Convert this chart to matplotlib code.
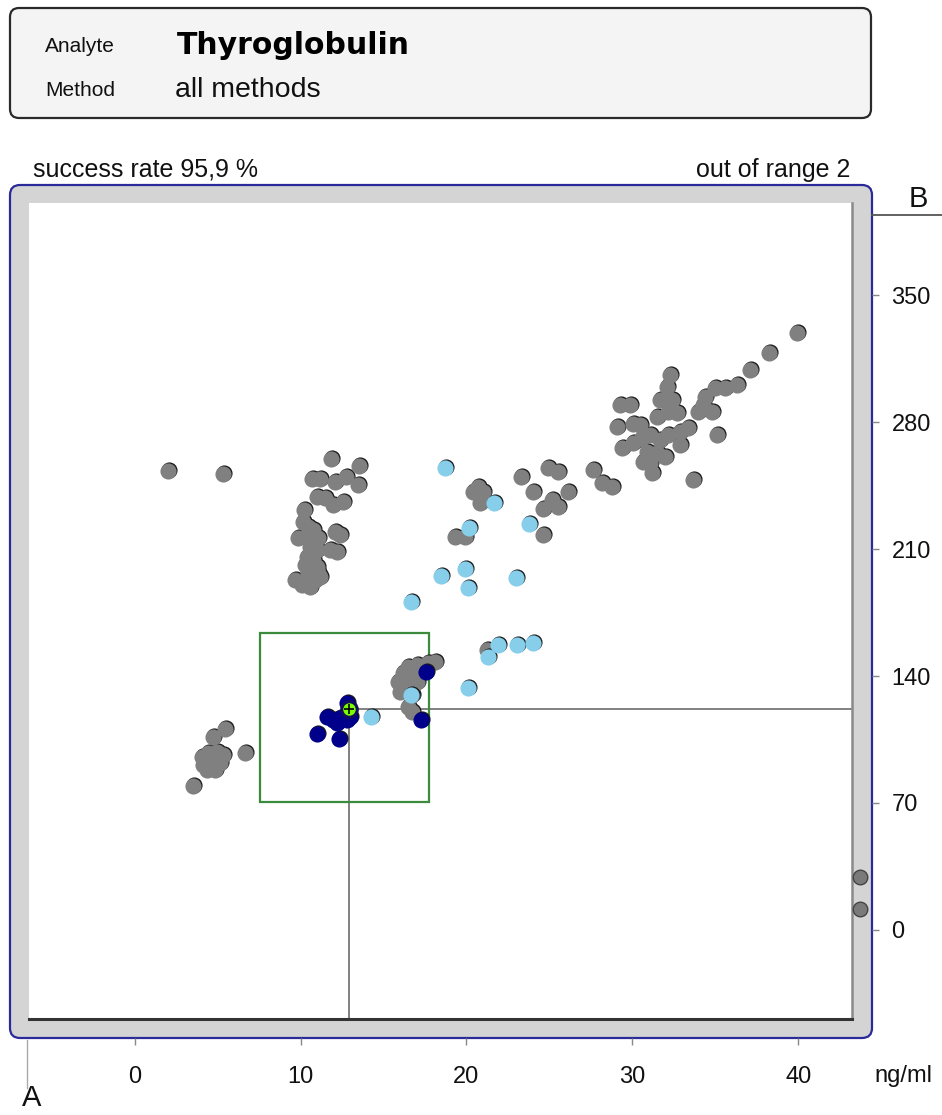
import matplotlib
matplotlib.use('Agg')
import matplotlib.pyplot as plt
from matplotlib.patches import FancyBboxPatch, Rectangle
from matplotlib.transforms import offset_copy

# ---------------- data ----------------
analyte = "Thyroglobulin"
method = "all methods"
success_text = "success rate 95,9 %"
out_of_range_text = "out of range 2"
unit_label = "ng/ml"
x_ticks = [0, 10, 20, 30, 40]
y_ticks = [0, 70, 140, 210, 280, 350]
x_limits = (-6.36, 43.23)
y_limits = (-49.1, 400.8)

target_x = 12.92
target_y = 121.8
box_x = (7.56, 17.74)
box_y = (70.6, 163.7)

gray_x = [2.0, 5.33,
          11.84, 13.52, 10.69, 11.17, 12.08, 12.74, 13.46,
          10.99, 11.48, 11.96, 12.56, 10.21, 10.15, 10.45, 10.75,
          9.85, 10.39, 11.05, 12.08, 12.38, 10.57, 10.99, 11.78, 12.20,
          10.39, 10.75, 10.27, 10.99, 10.45, 11.05, 9.67, 10.09, 10.57, 10.87, 11.17,
          5.45, 4.73, 4.07, 4.43, 4.97, 5.33, 4.13, 4.67, 5.15, 4.37, 4.85, 6.66, 3.5,
          18.10, 17.68, 17.02, 16.48, 16.17, 16.78, 15.87, 16.42, 17.02, 15.99, 16.72, 16.48, 16.72,
          20.39, 20.69, 20.99, 20.81, 19.31, 19.91, 23.28, 24.91, 25.51, 24.00, 26.11, 25.15, 24.61, 25.51, 24.61, 21.23,
          27.61, 28.16, 28.76,
          39.91, 38.22, 37.08, 36.30, 35.57, 34.97, 34.37, 34.25, 33.95, 34.79, 35.09, 33.65,
          32.26, 32.08, 31.66, 32.38, 31.48, 32.14, 32.68, 33.34, 32.86,
          29.25, 29.85, 29.06, 30.03, 30.45,
          29.37, 30.03, 30.57, 31.05, 31.66, 32.14, 30.87, 31.48, 31.96, 32.86, 30.63, 31.17, 31.05]
gray_y = [253.0, 251.4,
          259.7, 255.8, 248.6, 248.6, 247.0, 249.7, 245.3,
          238.7, 238.2, 234.3, 236.0, 231.5, 224.9, 222.2, 220.5,
          216.1, 216.1, 216.1, 219.4, 217.8, 211.1, 209.5, 209.5, 208.4,
          205.6, 204.0, 201.2, 200.1, 197.4, 196.8, 193.0, 190.2, 189.1, 193.0, 194.6,
          110.8, 106.4, 95.4, 97.6, 98.1, 96.5, 91.0, 91.0, 92.1, 88.2, 88.2, 97.6, 79.4,
          147.7, 147.2, 146.1, 145.0, 141.7, 141.7, 136.7, 137.8, 136.7, 131.2, 129.6, 122.9, 120.2,
          241.5, 244.2, 241.5, 235.4, 216.7, 216.7, 249.7, 254.7, 252.5, 241.5, 241.5, 237.1, 232.1, 233.2, 217.8, 154.4,
          253.6, 246.4, 244.2,
          329.1, 318.1, 308.7, 300.5, 298.8, 298.8, 293.8, 289.4, 285.6, 285.6, 272.9, 248.1,
          306.0, 299.4, 292.2, 292.2, 282.8, 285.6, 285.0, 276.8, 274.5,
          289.4, 289.4, 277.3, 279.0, 278.4,
          265.7, 268.5, 271.2, 272.9, 270.1, 272.9, 263.5, 263.0, 260.8, 267.4, 258.0, 251.9, 257.4]

light_x = [18.70, 21.66, 20.15, 23.76, 18.46, 19.91, 20.09, 22.98, 16.66, 21.90, 23.04, 24.00, 21.30, 20.09, 16.66, 14.25]
light_y = [254.7, 235.4, 221.6, 223.8, 195.2, 199.0, 188.5, 194.1, 180.8, 157.1, 157.1, 158.2, 150.5, 133.4, 129.6, 117.4]

navy_x = [12.80, 11.60, 11.96, 12.38, 12.20, 12.80, 12.98, 10.99, 12.32, 17.56, 17.26]
navy_y = [125.1, 117.4, 115.8, 116.9, 114.1, 115.8, 117.4, 108.1, 105.3, 142.2, 115.8]

out_of_range_y = [29.2, 11.6]

# ---------------- figure ----------------
W, H = 942, 1115
fig = plt.figure(figsize=(W / 100, H / 100), dpi=100)
plt.rcParams['font.family'] = ['Liberation Sans', 'DejaVu Sans']

bg = fig.add_axes([0, 0, 1, 1], zorder=0)
bg.set_xlim(0, W)
bg.set_ylim(H, 0)
bg.axis('off')

# header box
bg.add_patch(FancyBboxPatch((10, 8), 861, 110, boxstyle="round,pad=0,rounding_size=9",
                            fc='#f4f4f4', ec='#2a2a2a', lw=1.6))
bg.text(45, 47, "Analyte", fontsize=15, va='center', color='#111')
bg.text(45, 91, "Method", fontsize=15, va='center', color='#111')
bg.text(177, 46, analyte, fontsize=21.5, fontweight='bold', va='center',
        family='DejaVu Sans', color='#000')
bg.text(175, 90, method, fontsize=20.5, va='center', color='#111')

bg.text(33, 170, success_text, fontsize=18, va='center', color='#111')
bg.text(850, 170, out_of_range_text, fontsize=18, va='center', ha='right', color='#111')

# chart frame
bg.add_patch(FancyBboxPatch((10, 185), 862, 853, boxstyle="round,pad=0,rounding_size=10",
                            fc='#d4d4d4', ec='#2a2a9a', lw=1.6))

# B and A markers
bg.plot([872, 942], [215, 215], color='#555555', lw=1.3)
bg.text(918, 213, "B", fontsize=21, ha='center', va='bottom', color='#111')
bg.plot([27, 27], [1040, 1088], color='#aaaaaa', lw=1.0)
bg.text(32, 1098, "A", fontsize=21, ha='center', va='center', color='#111')
bg.text(874, 1076, unit_label, fontsize=17, va='center', ha='left', color='#111')

# main plotting area
left, right, top, bottom = 29, 852, 203, 1019
ax = fig.add_axes([left / W, (H - bottom) / H, (right - left) / W, (bottom - top) / H], zorder=2)
ax.set_xlim(*x_limits)
ax.set_ylim(*y_limits)
ax.set_facecolor('white')
ax.set_xticks([])
ax.set_yticks([])
for s in ['top', 'left']:
    ax.spines[s].set_visible(False)
ax.spines['bottom'].set_color('#333333')
ax.spines['bottom'].set_linewidth(2.2)
ax.spines['right'].set_color('#8a8a8a')
ax.spines['right'].set_linewidth(1.8)

# crosshair and acceptance box
ax.plot([target_x, target_x], [y_limits[0], target_y], color='#808080', lw=1.4, zorder=1)
ax.plot([target_x, x_limits[1]], [target_y, target_y], color='#808080', lw=1.4, zorder=1)
ax.add_patch(Rectangle((box_x[0], box_y[0]), box_x[1] - box_x[0], box_y[1] - box_y[0],
                       fill=False, ec='#3c8a3c', lw=1.6, zorder=1.5))

shadow = offset_copy(ax.transData, fig=fig, x=0.9, y=1.3, units='dots')
S = 135


def series(xs, ys, color, z):
    ax.scatter(xs, ys, s=S, c='#1a1a1a', lw=0, transform=shadow, zorder=z)
    ax.scatter(xs, ys, s=S, c=color, lw=0, zorder=z + 0.1)


series(gray_x, gray_y, '#808080', 3)
series(light_x, light_y, '#87ceeb', 4)
series(navy_x, navy_y, '#00008b', 5)

ax.scatter([target_x], [target_y], s=125, c='#7cfc00', edgecolors='#10105a', lw=2.2, zorder=7)
ax.scatter([target_x], [target_y], s=60, c='#000000', marker='+', lw=1.2, zorder=8)

# out of range points in the right margin
oor_tr = ax.get_yaxis_transform()
ax.scatter([1.0097] * len(out_of_range_y), out_of_range_y, s=110, c='#7a7a7a',
           edgecolors='#444444', lw=1.0, transform=oor_tr, clip_on=False, zorder=6)

# tick axes outside the frame
axx = fig.add_axes([left / W, (H - 1038) / H, (right - left) / W, (1038 - 185) / H], zorder=1)
axx.set_xlim(*x_limits)
axx.patch.set_visible(False)
for s in axx.spines.values():
    s.set_visible(False)
axx.set_yticks([])
axx.set_xticks(x_ticks)
axx.set_xticklabels([str(t) for t in x_ticks])
axx.tick_params(axis='x', length=5, width=1, color='#888888', pad=15, labelsize=17,
                labelcolor='#111111')

axy = fig.add_axes([10 / W, (H - bottom) / H, (872 - 10) / W, (bottom - top) / H], zorder=1)
axy.set_ylim(*y_limits)
axy.patch.set_visible(False)
for s in axy.spines.values():
    s.set_visible(False)
axy.set_xticks([])
axy.yaxis.tick_right()
axy.set_yticks(y_ticks)
axy.set_yticklabels([str(t) for t in y_ticks])
axy.tick_params(axis='y', length=5, width=1, color='#888888', pad=9, labelsize=17,
                labelcolor='#111111')

fig.savefig('out.png', dpi=100)
